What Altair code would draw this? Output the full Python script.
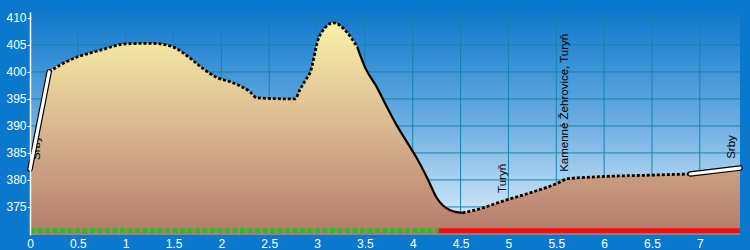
import altair as alt
import pandas as pd

# distance (km) and elevation (m) of the profile
dist = [0.0, 0.2, 0.38, 0.5, 0.73, 1.0, 1.25, 1.36, 1.5, 1.67, 1.78, 1.95, 2.12, 2.3,
        2.37, 2.77, 2.82, 2.88, 2.93, 3.01, 3.08, 3.17, 3.31, 3.42, 3.5, 3.63, 3.73,
        3.83, 3.94, 4.04, 4.15, 4.25, 4.39, 4.52, 4.73, 4.91, 5.26, 5.54, 5.61, 5.96,
        6.51, 6.9, 7.42]
elev = [382.0, 400.0, 401.9, 402.8, 404.0, 405.2, 405.3, 405.2, 404.6, 402.6, 401.0,
        399.0, 398.0, 396.3, 395.2, 395.0, 396.7, 398.5, 400.0, 405.9, 408.1, 409.1,
        407.4, 404.6, 400.9, 397.0, 393.5, 390.2, 387.0, 384.1, 380.4, 376.7, 374.4,
        373.9, 374.8, 375.9, 377.8, 379.6, 380.2, 380.6, 380.9, 381.1, 382.2]

# segment break points and their line styles
seg_start = [0.0, 0.2, 3.42, 4.52, 6.9]
seg_end = [0.2, 3.42, 4.52, 6.9, 7.42]
seg_style = ["white", "dashed", "solid", "dashed", "white"]

# place labels (rotated)
label_text = ["Srby", "Turyň", "Kamenné Žehrovice, Turyň", "Srby"]
label_x = [0.073, 4.94, 5.59, 7.34]
label_y = [383.7, 377.6, 381.5, 383.9]

# surface bar along the bottom
surf_start = [0.0, 4.27]
surf_end = [4.27, 7.42]
surf_kind = ["green", "red"]
surf_level = 370.6

x_ticks = [0, 0.5, 1, 1.5, 2, 2.5, 3, 3.5, 4, 4.5, 5, 5.5, 6, 6.5, 7]
y_ticks = [375, 380, 385, 390, 395, 400, 405, 410]

X_DOM = [0, 7.42]
Y_DOM = [369.8, 411.1]

prof = pd.DataFrame({"d": dist, "e": elev})

rows = []
for i, (s, e, st) in enumerate(zip(seg_start, seg_end, seg_style)):
    for d, h in zip(dist, elev):
        if s - 1e-9 <= d <= e + 1e-9:
            rows.append({"d": d, "e": h, "seg": i, "style": st})
segdf = pd.DataFrame(rows)

labdf = pd.DataFrame({"t": label_text, "d": label_x, "e": label_y})

srows = []
for i, (s, e, k) in enumerate(zip(surf_start, surf_end, surf_kind)):
    srows.append({"d": s, "e": surf_level, "seg": i, "kind": k})
    srows.append({"d": e, "e": surf_level, "seg": i, "kind": k})
surfdf = pd.DataFrame(srows)

bgdf = pd.DataFrame({"d": [X_DOM[0]], "d1": [X_DOM[1]],
                     "e0": [Y_DOM[0]], "e": [Y_DOM[1]]})

xs = alt.Scale(domain=X_DOM, nice=False, zero=False)
ys = alt.Scale(domain=Y_DOM, nice=False, zero=False)

xax = alt.Axis(values=x_ticks, format="~g", title=None, domain=False, ticks=False,
               labelColor="white", labelFontSize=12, labelFont="Liberation Sans",
               labelPadding=3, grid=False, labelFlush=False, labelOverlap=False,
               zindex=2)
yax = alt.Axis(values=y_ticks, title=None, domain=True, domainColor="white",
               domainWidth=1.5, ticks=True, tickColor="white", tickSize=3,
               labelColor="white", labelFontSize=12, labelFont="Liberation Sans",
               labelPadding=1, grid=False, labelOverlap=False, zindex=2)

X = lambda f="d": alt.X(f + ":Q", scale=xs, axis=xax, title=None)
Y = lambda f="e": alt.Y(f + ":Q", scale=ys, axis=yax, title=None)

view_grad = alt.Gradient(
    gradient="linear",
    stops=[alt.GradientStop(color="#0E78CC", offset=0),
           alt.GradientStop(color="#6DAEE3", offset=0.5),
           alt.GradientStop(color="#E6F3FC", offset=1)],
    x1=0, x2=0, y1=0, y2=1)

bg = alt.Chart(bgdf).mark_rect(color=view_grad).encode(
    x=X(), x2="d1:Q", y=Y(), y2="e0:Q",
)

vgrid = alt.Chart(pd.DataFrame({"d": x_ticks})).mark_rule(
    color="#1682AC", strokeWidth=1).encode(x=X())
hgrid = alt.Chart(pd.DataFrame({"e": y_ticks})).mark_rule(
    color="#1682AC", strokeWidth=1).encode(y=Y())

area_grad = alt.Gradient(
    gradient="linear",
    stops=[alt.GradientStop(color="#FBF1AA", offset=0),
           alt.GradientStop(color="#D9B990", offset=0.48),
           alt.GradientStop(color="#B57A6C", offset=1)],
    x1=0, x2=0, y1=0, y2=1)

area = alt.Chart(prof).mark_area(color=area_grad, interpolate="monotone").encode(
    x=X(), y=Y(), y2=alt.datum(Y_DOM[0]),
)

base = alt.Chart(segdf)
dashed = base.transform_filter(alt.datum.style == "dashed").mark_line(
    color="black", strokeWidth=2.8, strokeDash=[3, 2], interpolate="monotone"
).encode(x=X(), y=Y(), detail="seg:N")
solid = base.transform_filter(alt.datum.style == "solid").mark_line(
    color="black", strokeWidth=2.2, interpolate="monotone"
).encode(x=X(), y=Y(), detail="seg:N")
white_out = base.transform_filter(alt.datum.style == "white").mark_line(
    color="black", strokeWidth=5.5, strokeCap="round"
).encode(x=X(), y=Y(), detail="seg:N")
white_in = base.transform_filter(alt.datum.style == "white").mark_line(
    color="white", strokeWidth=3.2, strokeCap="round"
).encode(x=X(), y=Y(), detail="seg:N")

labels = alt.Chart(labdf).mark_text(
    angle=270, align="left", baseline="middle", fontSize=11.5,
    font="Liberation Sans", color="black"
).encode(x=X(), y=Y(), text="t:N")

sb = alt.Chart(surfdf)
green = sb.transform_filter(alt.datum.kind == "green").mark_line(
    color="#22C022", strokeWidth=5, strokeDash=[5, 2.5]
).encode(x=X(), y=Y(), detail="seg:N")
red = sb.transform_filter(alt.datum.kind == "red").mark_line(
    color="#F01212", strokeWidth=5
).encode(x=X(), y=Y(), detail="seg:N")

chart = alt.layer(bg, vgrid, hgrid, area, labels, dashed, solid, white_out, white_in,
                  green, red).properties(
    width=710, height=223,
    autosize=alt.AutoSizeParams(type="none"),
    padding={"left": 30, "top": 12, "right": 10, "bottom": 15},
    background="#0A78CC",
).configure_view(stroke=None)

chart.save("out.html", embed_options={"renderer": "svg", "actions": False})
